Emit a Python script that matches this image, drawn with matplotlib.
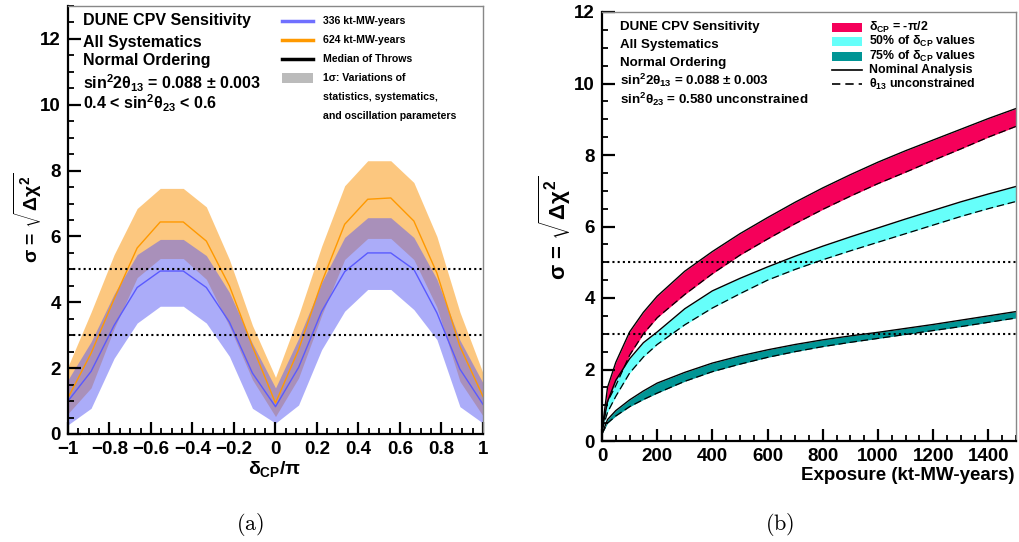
import matplotlib
matplotlib.use('Agg')
import matplotlib.pyplot as plt
import numpy as np
from matplotlib.ticker import MultipleLocator
from matplotlib.lines import Line2D
from matplotlib.patches import Rectangle

plt.rcParams['font.family'] = ['Liberation Sans', 'DejaVu Sans']
plt.rcParams['font.weight'] = 'bold'
plt.rcParams['mathtext.fontset'] = 'custom'
plt.rcParams['mathtext.rm'] = 'Liberation Sans:bold'
plt.rcParams['mathtext.it'] = 'Liberation Sans:bold'
plt.rcParams['mathtext.bf'] = 'Liberation Sans:bold'
plt.rcParams['mathtext.sf'] = 'Liberation Sans:bold'

# ---------------- data: panel (a) ----------------
delta_cp = np.arange(-9, 10) / 9.0
blue_med = [1.00, 1.90, 3.30, 4.45, 4.95, 4.95, 4.45, 3.40, 1.85, 0.83,
            2.02, 3.72, 4.93, 5.50, 5.50, 5.00, 3.68, 1.97, 0.90]
blue_hi = [1.65, 2.80, 4.25, 5.45, 5.91, 5.91, 5.42, 4.30, 2.75, 1.40,
           2.90, 4.60, 5.97, 6.57, 6.57, 5.97, 4.70, 2.85, 1.55]
blue_lo = [0.28, 0.78, 2.30, 3.37, 3.88, 3.88, 3.37, 2.36, 0.78, 0.33,
           0.88, 2.56, 3.73, 4.39, 4.39, 3.78, 2.87, 0.83, 0.33]
orange_med = [1.10, 2.45, 4.10, 5.65, 6.44, 6.44, 5.86, 4.50, 2.66, 0.94,
              2.56, 4.60, 6.37, 7.13, 7.17, 6.47, 4.89, 2.66, 1.14]
orange_hi = [2.05, 3.70, 5.45, 6.85, 7.46, 7.46, 6.90, 5.30, 3.30, 1.72,
             3.60, 5.70, 7.54, 8.30, 8.30, 7.64, 6.00, 3.70, 1.85]
orange_lo = [0.62, 1.40, 3.20, 4.75, 5.33, 5.33, 4.70, 3.27, 1.65, 0.53,
             1.70, 3.60, 5.30, 5.94, 5.94, 5.30, 3.85, 1.60, 0.55]

# ---------------- data: panel (b) ----------------
exposure = [0, 20, 50, 100, 150, 200, 300, 400, 500, 600, 700, 800,
            900, 1000, 1100, 1200, 1300, 1400, 1500]
red_nominal = [0.3, 1.5, 2.2, 3.05, 3.6, 4.05, 4.75, 5.3, 5.8, 6.25, 6.68,
               7.08, 7.45, 7.8, 8.12, 8.42, 8.72, 9.02, 9.3]
red_th13free = [0.3, 1.1, 1.55, 2.4, 3.0, 3.45, 4.1, 4.68, 5.2, 5.65, 6.08,
                6.48, 6.85, 7.2, 7.52, 7.85, 8.17, 8.5, 8.8]
cyan_nominal = [0.3, 1.1, 1.7, 2.3, 2.75, 3.05, 3.7, 4.2, 4.55, 4.87, 5.17,
                5.45, 5.71, 5.96, 6.21, 6.45, 6.69, 6.91, 7.12]
cyan_th13free = [0.3, 0.8, 1.25, 1.9, 2.35, 2.7, 3.25, 3.72, 4.12, 4.5, 4.8,
                 5.07, 5.32, 5.56, 5.8, 6.04, 6.28, 6.5, 6.7]
teal_nominal = [0.2, 0.6, 0.85, 1.15, 1.4, 1.62, 1.92, 2.18, 2.38, 2.55,
                2.70, 2.83, 2.94, 3.04, 3.15, 3.26, 3.38, 3.50, 3.62]
teal_th13free = [0.2, 0.5, 0.7, 0.96, 1.16, 1.34, 1.67, 1.94, 2.15, 2.34,
                 2.5, 2.64, 2.76, 2.87, 2.98, 3.09, 3.2, 3.32, 3.44]

W, H = 1020, 542
fig = plt.figure(figsize=(W / 100, H / 100), dpi=100)
axL = fig.add_axes([68 / W, 1 - 434 / H, 415 / W, 428 / H])
axR = fig.add_axes([602 / W, 1 - 441 / H, 414 / W, 429 / H])

ORANGE = (250 / 255, 145 / 255, 0)
BLUE = (88 / 255, 90 / 255, 245 / 255)

# ---- panel (a)
axL.fill_between(delta_cp, orange_lo, orange_hi, color=ORANGE, alpha=0.5, lw=0)
axL.plot(delta_cp, orange_med, color='#ff9900', lw=1.0)
axL.fill_between(delta_cp, blue_lo, blue_hi, color=BLUE, alpha=0.5, lw=0)
axL.plot(delta_cp, blue_med, color='#5a5aff', lw=1.0)
for yv in (3, 5):
    axL.axhline(yv, color='black', lw=1.5, ls=(0, (1, 1.5)))
axL.set_xlim(-1, 1)
axL.set_ylim(0, 13)
axL.xaxis.set_major_locator(MultipleLocator(0.2))
axL.xaxis.set_minor_locator(MultipleLocator(0.05))
axL.yaxis.set_major_locator(MultipleLocator(2))
axL.yaxis.set_minor_locator(MultipleLocator(0.5))
axL.set_xticks([-1, -0.8, -0.6, -0.4, -0.2, 0, 0.2, 0.4, 0.6, 0.8, 1])
axL.set_xticklabels(['\u22121', '\u22120.8', '\u22120.6', '\u22120.4', '\u22120.2',
                     '0', '0.2', '0.4', '0.6', '0.8', '1'])

# ---- panel (b)
bands = [(red_nominal, red_th13free, '#f5005a'),
         (cyan_nominal, cyan_th13free, '#66fffa'),
         (teal_nominal, teal_th13free, '#009595')]
for nom, free, col in bands:
    axR.fill_between(exposure, free, nom, color=col, lw=0)
    axR.plot(exposure, nom, color='black', lw=1.0)
    axR.plot(exposure, free, color='black', lw=0.9, ls=(0, (6, 3)))
for yv in (3, 5):
    axR.axhline(yv, color='black', lw=1.5, ls=(0, (1, 1.5)))
axR.set_xlim(0, 1500)
axR.set_ylim(0, 12)
axR.xaxis.set_major_locator(MultipleLocator(200))
axR.xaxis.set_minor_locator(MultipleLocator(50))
axR.yaxis.set_major_locator(MultipleLocator(2))
axR.yaxis.set_minor_locator(MultipleLocator(0.5))

for ax in (axL, axR):
    ax.tick_params(which='both', direction='in', top=False, right=False,
                   labelsize=13.5)
    ax.tick_params(axis='x', pad=5)
    ax.tick_params(axis='y', pad=5)
    ax.tick_params(which='major', length=9, width=1.6)
    ax.tick_params(which='minor', length=4.5, width=1.3)
    for side in ('left', 'bottom'):
        ax.spines[side].set_linewidth(1.6)
        ax.spines[side].set_color('black')
    for side in ('top', 'right'):
        ax.spines[side].set_linewidth(1.0)
        ax.spines[side].set_color('#888888')
    for lab in ax.get_xticklabels() + ax.get_yticklabels():
        lab.set_fontweight('bold')

# ---- text blocks panel (a)
tL = axL.transAxes
txtA = ['DUNE CPV Sensitivity', 'All Systematics', 'Normal Ordering',
        r'sin$^{2}$2$\theta_{13}$ = 0.088 $\pm$ 0.003',
        r'0.4 < sin$^{2}\theta_{23}$ < 0.6']
ysA = [21, 42, 61, 83, 103]
for s, py in zip(txtA, ysA):
    axL.text((83 - 68) / 415, (434 - py) / 428, s, transform=tL, fontsize=11.5,
             fontweight='bold', va='center', ha='left')

legA = [('336 kt-MW-years', 'line', '#7070ff'),
        ('624 kt-MW-years', 'line', '#ff9900'),
        ('Median of Throws', 'line', 'black'),
        ('1\u03c3: Variations of', 'box', '#bbbbbb'),
        ('statistics, systematics,', None, None),
        ('and oscillation parameters', None, None)]
ysL = [21, 40, 59, 78, 97, 116]
for (s, kind, col), py in zip(legA, ysL):
    yy = (434 - py) / 428
    if kind == 'line':
        axL.add_line(Line2D([(282 - 68) / 415, (313 - 68) / 415], [yy, yy],
                            transform=tL, color=col, lw=2.5))
    elif kind == 'box':
        axL.add_patch(Rectangle(((282 - 68) / 415, yy - 5 / 428), 31 / 415, 10 / 428,
                                transform=tL, color=col, lw=0))
    axL.text((323 - 68) / 415, yy, s, transform=tL, fontsize=7.6,
             fontweight='bold', va='center', ha='left')

# ---- text blocks panel (b)
tR = axR.transAxes
txtB = ['DUNE CPV Sensitivity', 'All Systematics', 'Normal Ordering',
        r'sin$^{2}$2$\theta_{13}$ = 0.088 $\pm$ 0.003',
        r'sin$^{2}\theta_{23}$ = 0.580 unconstrained']
ysB = [27, 45, 63, 80, 99]
for s, py in zip(txtB, ysB):
    axR.text((620 - 602) / 414, (441 - py) / 429, s, transform=tR, fontsize=9.6,
             fontweight='bold', va='center', ha='left')

legB = [(r'$\delta_{CP}$ = -$\pi$/2', 'box', '#f5005a'),
        (r'50% of $\delta_{CP}$ values', 'box', '#66fffa'),
        (r'75% of $\delta_{CP}$ values', 'box', '#009595'),
        ('Nominal Analysis', 'solid', 'black'),
        (r'$\theta_{13}$ unconstrained', 'dash', 'black')]
ysR = [27, 41, 56, 70, 84]
for (s, kind, col), py in zip(legB, ysR):
    yy = (441 - py) / 429
    x0, x1 = (832 - 602) / 414, (862 - 602) / 414
    if kind == 'box':
        axR.add_patch(Rectangle((x0, yy - 4.5 / 429), x1 - x0, 9 / 429,
                                transform=tR, color=col, lw=0))
    elif kind == 'solid':
        axR.add_line(Line2D([x0, x1], [yy, yy], transform=tR, color=col, lw=1.2))
    else:
        axR.add_line(Line2D([x0, x1], [yy, yy], transform=tR, color=col, lw=1.2,
                            ls=(0, (5, 3))))
    axR.text((869 - 602) / 414, yy, s, transform=tR, fontsize=8.9,
             fontweight='bold', va='center', ha='left')

# ---- axis labels
fig.text(275 / W, 1 - 469 / H, r'$\delta_{CP}/\pi$', fontsize=14, fontweight='bold',
         ha='center', va='center')
fig.text(1015 / W, 1 - 475 / H, 'Exposure (kt-MW-years)', fontsize=13.5,
         fontweight='bold', ha='right', va='center')
fig.text(28 / W, 1 - 218 / H, r'$\sigma$ = $\sqrt{\Delta\chi^{2}}$', fontsize=14,
         fontweight='bold', rotation=90, ha='center', va='center')
fig.text(555 / W, 1 - 228 / H, r'$\sigma$ = $\sqrt{\Delta\chi^{2}}$', fontsize=16,
         fontweight='bold', rotation=90, ha='center', va='center')

# ---- captions
fig.text(250 / W, 1 - 525 / H, r'$\mathrm{(a)}$', fontsize=16, ha='center',
         va='center', math_fontfamily='cm')
fig.text(780 / W, 1 - 525 / H, r'$\mathrm{(b)}$', fontsize=16, ha='center',
         va='center', math_fontfamily='cm')

fig.savefig('out.png', dpi=100)
